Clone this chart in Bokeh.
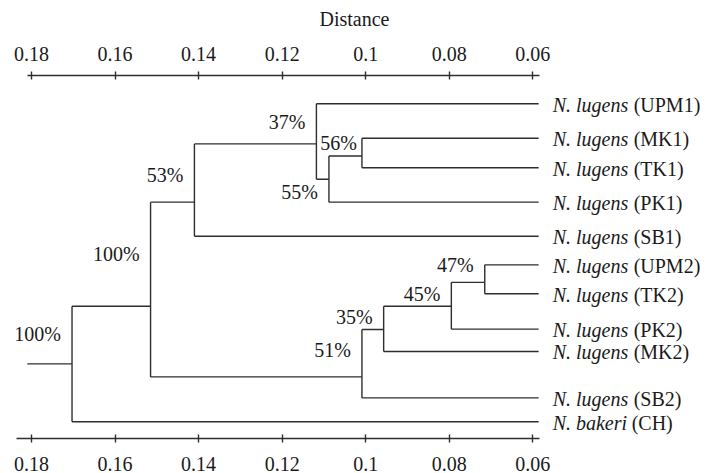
from bokeh.plotting import figure
from bokeh.models import LinearAxis, FixedTicker, Range1d, ColumnDataSource
from bokeh.core.properties import value
from bokeh.embed import file_html
from bokeh.resources import INLINE

# ---------------- data ----------------
leaf_ids = ["UPM1", "MK1", "TK1", "PK1", "SB1", "UPM2", "TK2", "PK2", "MK2", "SB2", "CH"]
leaf_species = ["N. lugens"] * 10 + ["N. bakeri"]
leaf_codes = ["(UPM1)", "(MK1)", "(TK1)", "(PK1)", "(SB1)", "(UPM2)", "(TK2)",
              "(PK2)", "(MK2)", "(SB2)", "(CH)"]
leaf_rows = [1.00, 2.08, 3.01, 4.09, 5.16, 6.06, 6.97, 8.08, 8.78, 10.24, 10.99]
leaf_distance = 0.0586

node_ids = ["n56", "n55", "n37", "n53", "n47", "n45", "n35", "n51", "n100a", "root"]
node_left = ["MK1", "n56", "UPM1", "n37", "UPM2", "n47", "n45", "n35", "n53", "n100a"]
node_right = ["TK1", "PK1", "n55", "SB1", "TK2", "PK2", "MK2", "SB2", "n51", "CH"]
node_distance = [0.1009, 0.1088, 0.1118, 0.1410, 0.0715, 0.0795, 0.0957, 0.1009, 0.1515, 0.1703]
node_support = [56, 55, 37, 53, 47, 45, 35, 51, 100, 100]
node_rows = [2.64, 3.37, 2.26, 4.09, 6.61, 7.36, 8.09, 9.58, 7.36, 9.17]
root_stub_distance = 0.181

tick_values = [0.18, 0.16, 0.14, 0.12, 0.10, 0.08, 0.06]
tick_labels = ["0.18", "0.16", "0.14", "0.12", "0.1", "0.08", "0.06"]
axis_title = "Distance"

# ---------------- styles ----------------
FONT = "Liberation Serif"
INK = "#1a1a1a"
LINE = "#2e2e2e"
FS = "20px"
support_dx = [-5, -11, -11, -11, -11, -11, -11, -11, -11, -11]
support_dy = [4.6, 36.4, 18.4, 31, 0, 11.6, 11, 20.6, 51.6, 27.6]

# ---------------- tree geometry ----------------
pos = {lid: (leaf_distance, r) for lid, r in zip(leaf_ids, leaf_rows)}
x0, y0, x1, y1 = [], [], [], []
lab_x, lab_y = [], []
for nid, l, r, d, row in zip(node_ids, node_left, node_right, node_distance, node_rows):
    lx, ly = pos[l]
    rx, ry = pos[r]
    x0 += [d, lx, rx]
    y0 += [ly, ly, ry]
    x1 += [d, d, d]
    y1 += [ry, ly, ry]
    lab_x.append(d)
    lab_y.append(min(ly, ry))
    pos[nid] = (d, row)
rx, ry = pos["root"]
x0.append(rx); y0.append(ry); x1.append(root_stub_distance); y1.append(ry)

p = figure(width=708, height=473, output_backend="svg", toolbar_location=None,
           x_axis_type=None, y_axis_type=None,
           x_range=Range1d(0.187421, 0.017941), y_range=Range1d(11.516, 0.110),
           min_border_left=0, min_border_right=0, min_border_top=75, min_border_bottom=35)
p.outline_line_color = None
p.background_fill_color = "white"
p.border_fill_color = "white"

p.segment(x0=x0, y0=y0, x1=x1, y1=y1, line_color=LINE, line_width=1.4)

# support labels
p.text(x=lab_x, y=lab_y, text=[f"{s}%" for s in node_support],
       x_offset=support_dx, y_offset=support_dy,
       text_align="right", text_baseline="middle",
       text_font=value(FONT), text_font_size=FS, text_color=INK)

# leaf labels
src = ColumnDataSource(dict(
    x=[leaf_distance] * len(leaf_ids), y=leaf_rows, sp=leaf_species, code=leaf_codes,
    code_dx=[95 if s == "N. lugens" else 93 for s in leaf_species]))
p.text(x="x", y="y", text="sp", source=src, x_offset=14, y_offset=1,
       text_align="left", text_baseline="middle", text_font=value(FONT),
       text_font_style="italic", text_font_size=FS, text_color=INK)
p.text(x="x", y="y", text="code", source=src, x_offset="code_dx", y_offset=1,
       text_align="left", text_baseline="middle", text_font=value(FONT),
       text_font_size=FS, text_color=INK)

overrides = {v: t for v, t in zip(tick_values, tick_labels)}


def make_axis(label, bounds, standoff, label_standoff):
    ax = LinearAxis(ticker=FixedTicker(ticks=tick_values, minor_ticks=[]),
                    major_label_overrides=overrides, bounds=bounds)
    ax.axis_label = label
    ax.axis_line_color = LINE
    ax.axis_line_width = 1.4
    ax.major_tick_line_color = LINE
    ax.major_tick_line_width = 1.4
    ax.major_tick_in = 4
    ax.major_tick_out = 4
    ax.minor_tick_line_color = None
    ax.major_label_text_font = FONT
    ax.major_label_text_font_size = FS
    ax.major_label_text_color = INK
    ax.major_label_standoff = standoff
    ax.axis_label_text_font = FONT
    ax.axis_label_text_font_size = FS
    ax.axis_label_text_font_style = "normal"
    ax.axis_label_text_color = INK
    ax.axis_label_standoff = label_standoff
    return ax


p.add_layout(make_axis(axis_title, (0.05832, 0.18103), 11, 14), "above")
p.add_layout(make_axis(None, (0.05839, 0.18359), 14, 0), "below")

open("out.html", "w").write(file_html(p, INLINE))
